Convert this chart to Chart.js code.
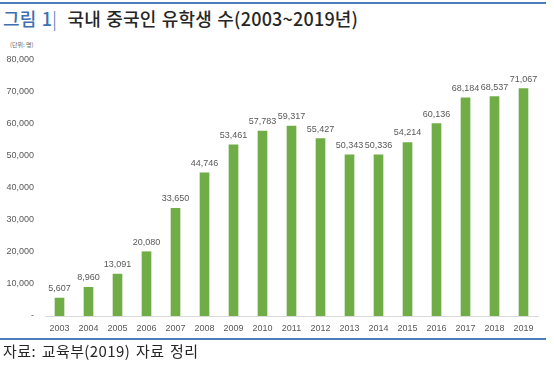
<!DOCTYPE html>
<html>
<head>
<meta charset="utf-8">
<script src="https://cdn.jsdelivr.net/npm/chart.js@4/dist/chart.umd.min.js"></script>
<style>
  html, body { margin:0; padding:0; background:#fff; }
  body { width:554px; height:366px; position:relative; overflow:hidden; font-family:"Noto Sans CJK KR","Noto Sans",sans-serif; }
  .rule { position:absolute; left:0; width:546px; height:2px; background:#4a7ebb; }
  #title { position:absolute; left:3px; top:5px; font-size:18px; line-height:26px; color:#262626; font-weight:500; white-space:nowrap; letter-spacing:0.2px; word-spacing:1px; }
  #title .fig { color:#3e6fb0; }
  #unit { position:absolute; left:10px; top:40px; font-size:6px; color:#666; white-space:nowrap; }
  #source { position:absolute; left:3px; top:340px; font-size:15px; line-height:22px; color:#262626; white-space:nowrap; letter-spacing:0.4px; word-spacing:2px; }
  #wrap { position:absolute; left:0; top:30px; width:554px; height:310px; }
</style>
</head>
<body>
<div class="rule" style="top:2px"></div>
<div id="title"><span class="fig">그림 1</span><span style="color:#3e6fb0;font-weight:300">|</span>&nbsp; 국내 중국인 유학생 수(2003~2019년)</div>
<div id="unit">(단위: 명)</div>
<div id="wrap"><canvas id="c"></canvas></div>
<div class="rule" style="top:338px"></div>
<div id="source">자료: 교육부(2019) 자료 정리</div>
<script>
const years = ["2003","2004","2005","2006","2007","2008","2009","2010","2011","2012","2013","2014","2015","2016","2017","2018","2019"];
const students = [5607, 8960, 13091, 20080, 33650, 44746, 53461, 57783, 59317, 55427, 50343, 50336, 54214, 60136, 68184, 68537, 71067];
const yTicks = [0, 10000, 20000, 30000, 40000, 50000, 60000, 70000, 80000];

const fmt = v => v.toLocaleString('en-US');

const valueLabels = {
  id: 'valueLabels',
  afterDatasetsDraw(chart) {
    const ctx = chart.ctx;
    const meta = chart.getDatasetMeta(0);
    ctx.save();
    ctx.font = '9px "Liberation Sans", Arial, sans-serif';
    ctx.fillStyle = '#595959';
    ctx.textAlign = 'center';
    ctx.textBaseline = 'bottom';
    meta.data.forEach((bar, i) => {
      ctx.fillText(fmt(students[i]), bar.x, bar.y - 5);
    });
    ctx.restore();
  }
};

new Chart(document.getElementById('c'), {
  type: 'bar',
  data: {
    labels: years,
    datasets: [{
      data: students,
      backgroundColor: '#70ad47',
      barThickness: 9
    }]
  },
  options: {
    responsive: true,
    maintainAspectRatio: false,
    animation: false,
    layout: { padding: { top: 30, right: 16, left: 0, bottom: 0 } },
    plugins: { legend: { display: false }, tooltip: { enabled: false } },
    scales: {
      x: {
        grid: { display: false, drawTicks: false },
        border: { display: true, color: '#d9d9d9', width: 1 },
        ticks: { color: '#595959', font: { size: 9, family: '"Liberation Sans", Arial, sans-serif' }, padding: 7, maxRotation: 0, autoSkip: false },
        afterFit(s) { s.height = 24; }
      },
      y: {
        min: 0, max: 80000,
        afterBuildTicks(s) { s.ticks = yTicks.map(v => ({ value: v })); },
        grid: { display: false, drawTicks: false },
        border: { display: false },
        ticks: {
          color: '#595959',
          font: { size: 9, family: '"Liberation Sans", Arial, sans-serif' },
          padding: 11,
          callback: v => v === 0 ? '-' : fmt(v)
        },
        afterFit(s) { s.width = 45; }
      }
    }
  },
  plugins: [valueLabels]
});
</script>
</body>
</html>
